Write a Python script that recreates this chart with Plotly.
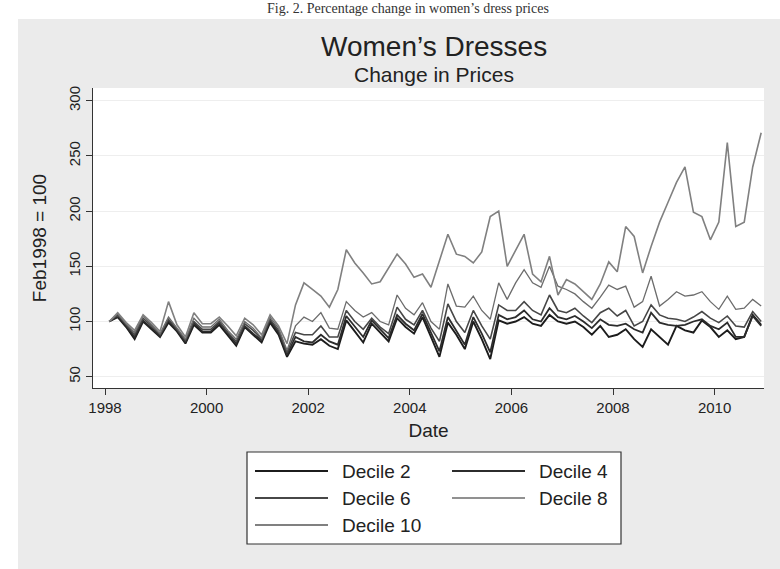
import plotly.graph_objects as go

# ---------------- data (bimonthly, Feb1998 = 100) ----------------
YEARS = list(range(1998, 2011))
MONTHS = [2, 4, 6, 8, 10, 12]

decile_2 = [
    100, 104, 95, 84, 100, 93,
    86, 99, 91, 80, 97, 90,
    90, 97, 87, 78, 95, 88,
    81, 99, 88, 68, 82, 80,
    79, 84, 78, 75, 101, 91,
    81, 98, 90, 82, 103, 95,
    89, 104, 86, 68, 99, 88,
    75, 100, 84, 66, 101, 98,
    100, 104, 98, 96, 106, 100,
    98, 100, 95, 88, 96, 86,
    88, 93, 84, 77, 93, 86,
    79, 96, 92, 90, 101, 95,
    86, 92, 84, 86, 106, 97,
]
decile_4 = [
    100, 105, 96, 86, 101, 94,
    87, 101, 92, 81, 99, 91,
    91, 99, 89, 80, 96, 89,
    83, 101, 90, 70, 86, 82,
    81, 88, 82, 79, 105, 95,
    86, 101, 93, 85, 106, 98,
    92, 107, 90, 73, 104, 92,
    79, 104, 89, 72, 106, 102,
    104, 110, 102, 100, 112, 104,
    102, 105, 100, 94, 102, 97,
    96, 98, 93, 90, 108, 99,
    97, 96, 97, 100, 102, 96,
    93, 99, 86, 86, 105, 96,
]
decile_6 = [
    100, 106, 97, 88, 103, 96,
    88, 102, 93, 83, 100, 93,
    93, 100, 90, 82, 98, 92,
    84, 102, 92, 72, 90, 88,
    88, 96, 86, 86, 110, 100,
    93, 103, 95, 89, 113, 102,
    97, 110, 94, 82, 116, 100,
    90, 110, 96, 84, 115, 110,
    110, 118, 110, 106, 124, 110,
    108, 112, 105, 99, 108, 112,
    105, 110, 96, 100, 115, 106,
    103, 102, 100, 104, 109, 103,
    99, 105, 96, 95, 109, 100,
]
decile_8 = [
    100, 107, 98, 90, 105, 97,
    89, 104, 94, 84, 103, 95,
    95, 102, 92, 84, 100, 94,
    85, 104, 94, 74, 96, 104,
    100, 108, 94, 93, 118, 110,
    104, 108, 100, 97, 124, 112,
    106, 117, 100, 93, 134, 114,
    113, 123, 110, 102, 135, 120,
    135, 147, 135, 131, 150, 132,
    129, 125, 118, 112, 122, 133,
    129, 132, 113, 118, 141, 114,
    120, 127, 123, 124, 127, 118,
    111, 123, 111, 112, 120, 114,
]
decile_10 = [
    100, 108, 99, 92, 106, 99,
    91, 118, 97, 86, 108, 98,
    98, 104, 96, 87, 103, 97,
    88, 106, 96, 80, 115, 135,
    129, 123, 113, 129, 165, 153,
    144, 134, 136, 148, 161, 152,
    140, 143, 131, 155, 179, 161,
    159, 153, 163, 195, 200, 150,
    165, 179, 143, 136, 159, 124,
    138, 134, 127, 120, 134, 154,
    145, 186, 177, 144, 168, 190,
    208, 226, 240, 199, 195, 174,
    190, 262, 186, 190, 240, 271,
]

SERIES_NAMES = ["Decile 2", "Decile 4", "Decile 6", "Decile 8", "Decile 10"]
X_TICKS = [1998, 2000, 2002, 2004, 2006, 2008, 2010]
Y_TICKS = [50, 100, 150, 200, 250, 300]

dates = [y + (m - 1) / 12 for y in YEARS for m in MONTHS]

# ---------------- styling ----------------
W, H = 780, 569
PL, PR, PT, PB = 93, 764, 88, 388          # plot area in px
COLORS = ["#1c1c1c", "#2c2c2c", "#474747", "#6c6c6c", "#808080"]
WIDTHS = [1.9, 1.8, 1.6, 1.3, 1.6]
FONT = "Liberation Sans, Arial, sans-serif"

def px2x(px):
    return (px - PL) / (PR - PL)

def py2y(py):
    return (PB - py) / (PB - PT)

fig = go.Figure()
all_series = [decile_2, decile_4, decile_6, decile_8, decile_10]
for name, vals, c, w in zip(SERIES_NAMES, all_series, COLORS, WIDTHS):
    fig.add_trace(go.Scatter(x=dates, y=vals, mode="lines", name=name,
                             line=dict(color=c, width=w), showlegend=False))

# x range from pixel geometry: 1998 at 105px, 50.8 px / year
pxy = 50.8
x0 = 1998 - (105 - PL) / pxy
x1 = 1998 + (PR - 105) / pxy
# y range: 300 at 100.7px, 50 at 376.7px
ppu = (376.7 - 100.7) / 250
y0 = 50 - (PB - 376.7) / ppu
y1 = 300 + (100.7 - PT) / ppu

shapes = [
    # white strips of the scanned page (top and left)
    dict(type="rect", xref="paper", yref="paper", x0=px2x(-5), x1=px2x(W + 5),
         y0=py2y(19), y1=py2y(-5), fillcolor="white", line_width=0, layer="below"),
    dict(type="rect", xref="paper", yref="paper", x0=px2x(-5), x1=px2x(18),
         y0=py2y(H + 5), y1=py2y(-5), fillcolor="white", line_width=0, layer="below"),
]

# legend box (drawn manually to mimic the long Stata key lines)
LB = dict(l=247, r=621, t=452, b=544)
shapes.append(dict(type="rect", xref="paper", yref="paper",
                   x0=px2x(LB["l"]), x1=px2x(LB["r"]), y0=py2y(LB["b"]), y1=py2y(LB["t"]),
                   fillcolor="white", line=dict(color="#333333", width=1.2), layer="above"))
annotations = []
leg_pos = [(255, 471), (452, 471), (255, 498), (452, 498), (255, 525)]
for (lx, ly), name, c, w in zip(leg_pos, SERIES_NAMES, COLORS, WIDTHS):
    shapes.append(dict(type="line", xref="paper", yref="paper",
                       x0=px2x(lx), x1=px2x(lx + 73), y0=py2y(ly), y1=py2y(ly),
                       line=dict(color=c, width=w + 0.3), layer="above"))
    annotations.append(dict(text=name, xref="paper", yref="paper",
                            x=px2x(lx + 85), y=py2y(ly), xanchor="left", yanchor="middle",
                            showarrow=False, font=dict(family=FONT, size=19, color="#222222")))

# titles
annotations += [
    dict(text="Women\u2019s Dresses", xref="paper", yref="paper", x=px2x(434), y=py2y(46),
         xanchor="center", yanchor="middle", showarrow=False,
         font=dict(family=FONT, size=28, color="#222222")),
    dict(text="Change in Prices", xref="paper", yref="paper", x=px2x(434), y=py2y(74),
         xanchor="center", yanchor="middle", showarrow=False,
         font=dict(family=FONT, size=21, color="#222222")),
    dict(text="Fig. 2. Percentage change in women\u2019s dress prices", xref="paper", yref="paper",
         x=px2x(408), y=py2y(8), xanchor="center", yanchor="middle", showarrow=False,
         font=dict(family="Liberation Serif, Times New Roman, serif", size=14, color="#333333")),
]

fig.update_layout(
    width=W, height=H,
    margin=dict(l=PL, r=W - PR, t=PT, b=H - PB, pad=0),
    paper_bgcolor="#ebebeb",
    plot_bgcolor="white",
    font=dict(family=FONT, size=15, color="#222222"),
    shapes=shapes,
    annotations=annotations,
    showlegend=False,
)
fig.update_xaxes(
    range=[x0, x1], tickvals=X_TICKS, ticktext=[str(v) for v in X_TICKS],
    showline=True, linecolor="#333333", linewidth=1.2, mirror=False,
    ticks="outside", ticklen=6, tickcolor="#333333", tickwidth=1.2,
    showgrid=False, zeroline=False,
    tickfont=dict(family=FONT, size=15, color="#222222"),
    title=dict(text="Date", font=dict(family=FONT, size=19, color="#222222"), standoff=8),
)
fig.update_yaxes(
    range=[y0, y1], tickvals=Y_TICKS, ticktext=[str(v) for v in Y_TICKS],
    showline=True, linecolor="#333333", linewidth=1.2, mirror=False,
    ticks="outside", ticklen=6, tickcolor="#333333", tickwidth=1.2, tickangle=-90,
    showgrid=True, gridcolor="#eeeeee", gridwidth=1, zeroline=False,
    tickfont=dict(family=FONT, size=15, color="#222222"),
    title=dict(text="Feb1998 = 100", font=dict(family=FONT, size=19, color="#222222"), standoff=14),
)

fig.write_html("out.html", config={"displayModeBar": False},
               post_script="document.body.style.margin='0px';")
